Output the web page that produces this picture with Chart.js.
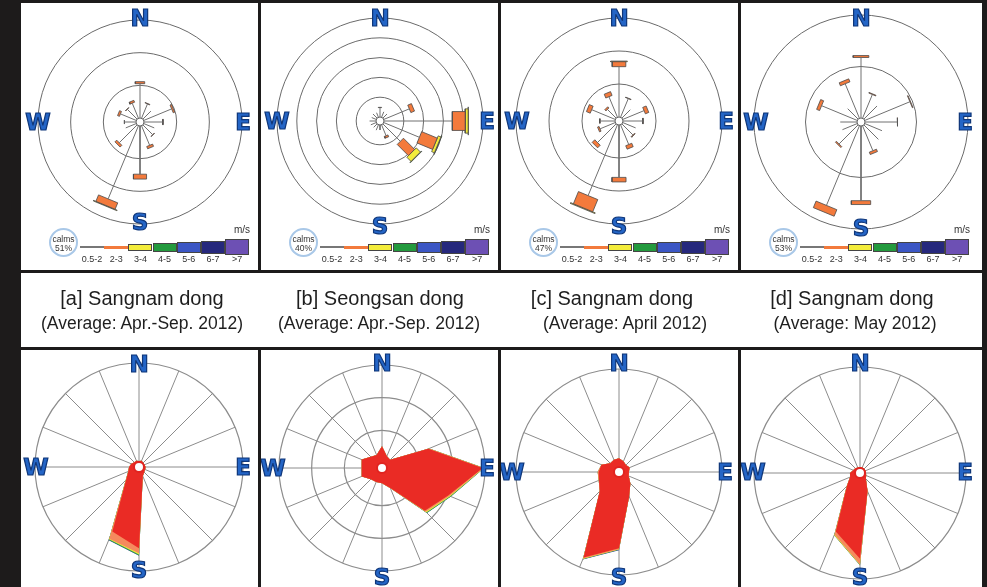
<!DOCTYPE html>
<html>
<head>
<meta charset="utf-8">
<script src="https://cdn.jsdelivr.net/npm/chart.js@4.4.1/dist/chart.umd.min.js"></script>
<style>
body { margin: 0; width: 987px; height: 587px; background: #1d1b1b; position: relative; overflow: hidden; font-family: "Liberation Sans", Arial, sans-serif; }
.panel { position: absolute; background: #fff; overflow: hidden; }
.panel canvas { position: absolute; }
.dir { position: absolute; font: bold 23px "DejaVu Sans", sans-serif; line-height: 1; color: #2465c6; -webkit-text-stroke: 1.2px #0f3679; transform: translate(-50%, -50%); }
.calm { position: absolute; left: 28px; top: 225px; width: 29px; height: 29px; border: 2px solid #a9c8e8; border-radius: 50%; font-size: 8.5px; line-height: 9px; text-align: center; color: #333; padding-top: 5px; box-sizing: border-box; }
.lbar { position: absolute; box-sizing: border-box; }
.llab { position: absolute; font-size: 9px; color: #333; text-align: center; white-space: nowrap; }
.ms { position: absolute; left: 213px; top: 221px; font-size: 10px; color: #333; }
.t1 { position: absolute; top: 14px; font-size: 20px; color: #1e1e1e; transform: translateX(-50%); white-space: nowrap; }
.t2 { position: absolute; top: 40px; font-size: 17.5px; color: #1e1e1e; transform: translateX(-50%); white-space: nowrap; }
</style>
</head>
<body>
<script>
const dirs = ['N', 'NNE', 'NE', 'ENE', 'E', 'ESE', 'SE', 'SSE', 'S', 'SSW', 'SW', 'WSW', 'W', 'WNW', 'NW', 'NNW'];
const speedLabels = ['0.5-2', '2-3', '3-4', '4-5', '5-6', '6-7', '>7'];
const speedColors = ['#777777', '#f37a3c', '#f3ec3b', '#239a3e', '#3b56c4', '#26287c', '#6d50b4'];
const calms = [51, 40, 47, 53];
const titles = ['[a] Sangnam dong', '[b] Seongsan dong', '[c] Sangnam dong', '[d] Sangnam dong'];
const periods = ['(Average: Apr.-Sep. 2012)', '(Average: Apr.-Sep. 2012)', '(Average: April 2012)', '(Average: May 2012)'];

// top roses: frequency (%) per speed class, N..NNW clockwise
const roseA1 = [4.2, 1.9, 1.4, 3.7, 2.3, 1.4, 1.7, 2.6, 5.9, 9.7, 3.1, 1.4, 1.4, 2.1, 1.7, 2.0];
const roseA2 = [0.25, 0.06, 0, 0.2, 0.05, 0, 0.05, 0.3, 0.6, 0.85, 0.3, 0, 0.05, 0.25, 0.05, 0.25];
const roseA3 = [0, 0, 0, 0, 0, 0, 0, 0, 0, 0.08, 0, 0, 0, 0, 0, 0];
const ringsA = [4, 8, 12];

const roseB1 = [1.9, 1.2, 1.2, 5.6, 13.8, 7.8, 5.0, 2.4, 1.0, 1.2, 1.0, 1.2, 1.3, 1.0, 1.2, 1.0];
const roseB2 = [0.05, 0, 0, 0.8, 2.6, 3.4, 3.2, 0.4, 0, 0, 0, 0, 0, 0, 0, 0];
const roseB3 = [0, 0, 0, 0, 0.6, 0.6, 1.2, 0, 0, 0, 0, 0, 0, 0, 0, 0];
const roseB4 = [0, 0, 0, 0, 0.05, 0.1, 0.1, 0, 0, 0, 0, 0, 0, 0, 0, 0];
const ringsB = [4, 8, 12, 16, 20];

const roseC1 = [6.1, 2.45, 1.45, 2.8, 2.4, 1.7, 1.9, 2.6, 6.35, 9.3, 3.2, 2.0, 1.8, 3.1, 1.5, 2.7];
const roseC2 = [0.6, 0.05, 0, 0.45, 0.05, 0, 0.1, 0.45, 0.55, 1.6, 0.45, 0.2, 0.05, 0.5, 0.2, 0.5];
const roseC3 = [0.08, 0, 0, 0, 0, 0, 0, 0, 0, 0.1, 0, 0, 0, 0, 0, 0];
const ringsC = [4, 8, 12];

const roseD1 = [4.7, 2.0, 1.45, 3.8, 2.5, 1.45, 1.6, 2.1, 5.8, 6.7, 2.1, 1.25, 1.3, 3.0, 1.15, 2.9];
const roseD2 = [0.15, 0.05, 0, 0.05, 0.05, 0, 0, 0.2, 0.3, 0.55, 0.1, 0, 0, 0.25, 0, 0.25];
const ringsD = [4, 8];

// bottom roses: layers by speed class, outer circle = 30 %
const botA1 = [0.3, 0.5, 0.3, 0.3, 0.5, 0.5, 0.7, 1.5, 23.1, 19.6, 4.0, 2.0, 1.5, 1.0, 0.5, 0.5];
const botA2 = [0, 0, 0, 0, 0, 0, 0, 0, 1.5, 2.4, 0.1, 0, 0, 0, 0, 0];
const botA3 = [0, 0, 0, 0, 0, 0, 0, 0, 0.4, 0.2, 0.1, 0.05, 0, 0, 0, 0];
const botA4 = [0, 0, 0, 0, 0, 0, 0, 0, 0.3, 0.2, 0, 0, 0, 0, 0, 0];
const botA5 = [0, 0, 0, 0, 0, 0, 0, 0, 0.1, 0.1, 0, 0, 0, 0, 0, 0];

const botB1 = [5.1, 2.4, 2.0, 13.8, 29.3, 20.4, 17.0, 5.1, 3.1, 3.1, 3.3, 5.2, 4.7, 5.2, 3.3, 2.8];
const botB2 = [0, 0, 0, 0.2, 0.3, 0.4, 0.4, 0.1, 0, 0, 0, 0, 0, 0, 0, 0];
const botB3 = [0, 0, 0, 0.1, 0.1, 0.3, 0.3, 0, 0, 0, 0, 0, 0, 0, 0, 0];
const botB4 = [0, 0, 0, 0, 0.05, 0.2, 0.2, 0, 0, 0, 0, 0, 0, 0, 0, 0];
const botB5 = [0, 0, 0, 0, 0, 0, 0, 0, 0, 0, 0, 0, 0, 0, 0, 0];

const botC1 = [2.7, 2.0, 1.5, 2.0, 1.5, 1.7, 3.4, 6.6, 21.8, 26.8, 6.8, 5.1, 4.7, 4.3, 2.3, 2.5];
const botC2 = [0, 0, 0, 0, 0, 0, 0, 0, 0.3, 0.35, 0, 0.1, 0.3, 0, 0, 0];
const botC3 = [0, 0, 0, 0, 0, 0, 0, 0, 0.1, 0.15, 0, 0, 0, 0, 0, 0];
const botC4 = [0, 0, 0, 0, 0, 0, 0, 0, 0.1, 0.1, 0, 0, 0, 0, 0, 0];
const botC5 = [0, 0, 0, 0, 0, 0, 0, 0, 0.1, 0.05, 0, 0, 0, 0, 0, 0];

const botD1 = [0.3, 0.3, 0.3, 0.3, 0.3, 0.5, 1.0, 4.4, 24.0, 17.3, 4.0, 1.7, 1.5, 0.7, 0.5, 0.3];
const botD2 = [0, 0, 0, 0, 0, 0, 0, 0, 1.7, 1.0, 0.1, 0, 0, 0, 0, 0];
const botD3 = [0, 0, 0, 0, 0, 0, 0, 0, 0.15, 0.2, 0.05, 0, 0, 0, 0, 0];
const botD4 = [0, 0, 0, 0, 0, 0, 0, 0, 0.1, 0.05, 0, 0, 0, 0, 0, 0];
const botD5 = [0, 0, 0, 0, 0, 0, 0, 0, 0, 0, 0, 0, 0, 0, 0, 0];
const botRingsB = [10, 20, 30];
const botRingsOther = [30];

const CALM_PX = 4;
const HOLE_PX = 5;
const barWidth = [0, 0.12, 0.14, 0.16];
const layerColors = ['#ea2b25', '#f58a5e', '#efe43f', '#36a547', '#2b3c9e'];
const legendHeights = [1.5, 3, 7, 9, 11, 13, 16];

const panelX = [21, 261, 501, 741];
const panelW = [237, 237, 237, 241];
const topGeo = [[119, 119, 102], [119, 118, 103], [118, 118, 103], [120, 119, 107]];
const botGeo = [[118, 117, 104], [121, 118, 103], [118, 122, 103], [119, 123, 106]];
// compass letter positions on the page: [N, E, S, W] as [x, y]
const topLetters = [
    [[140, 18], [243, 122], [140, 222], [38, 122]],
    [[380, 18], [487, 121], [380, 226], [277, 121]],
    [[619, 18], [726, 121], [619, 226], [517, 121]],
    [[861, 18], [965, 122], [861, 228], [756, 122]]
];
const botLetters = [
    [[139, 364], [243, 467], [139, 570], [36, 467]],
    [[382, 363], [487, 468], [382, 577], [273, 468]],
    [[619, 363], [725, 472], [619, 577], [512, 472]],
    [[860, 363], [965, 472], [860, 577], [753, 472]]
];

function makePanel(x, y, w, h) {
    const d = document.createElement('div');
    d.className = 'panel';
    d.style.cssText = `left:${x}px;top:${y}px;width:${w}px;height:${h}px`;
    document.body.appendChild(d);
    return d;
}

function addCanvas(panel, cx, cy, size) {
    const c = document.createElement('canvas');
    c.width = size;
    c.height = size;
    c.style.left = (cx - size / 2) + 'px';
    c.style.top = (cy - size / 2) + 'px';
    panel.appendChild(c);
    return c;
}

function addCompass(panel, px, py, spots) {
    ['N', 'E', 'S', 'W'].forEach((t, i) => {
        const s = document.createElement('div');
        s.className = 'dir';
        s.textContent = t;
        s.style.left = (spots[i][0] - px) + 'px';
        s.style.top = (spots[i][1] - py) + 'px';
        panel.appendChild(s);
    });
}

function addLegend(panel, calm) {
    const c = document.createElement('div');
    c.className = 'calm';
    c.innerHTML = 'calms<br>' + calm + '%';
    panel.appendChild(c);
    speedLabels.forEach((lab, i) => {
        const x0 = 59 + i * 24.2;
        const h = legendHeights[i];
        const bar = document.createElement('div');
        bar.className = 'lbar';
        bar.style.cssText = `left:${x0}px;top:${244 - h / 2}px;width:24px;height:${h}px;background:${speedColors[i]};` +
            (i > 1 ? 'border:1px solid #444;' : '');
        panel.appendChild(bar);
        const t = document.createElement('div');
        t.className = 'llab';
        t.textContent = lab;
        t.style.cssText = `left:${x0 - 2}px;width:28px;top:251px`;
        panel.appendChild(t);
    });
    const ms = document.createElement('div');
    ms.className = 'ms';
    ms.textContent = 'm/s';
    panel.appendChild(ms);
}

function drawRose(canvas, classes, rings, outerPx) {
    const vmax = rings[rings.length - 1];
    const k = (outerPx - CALM_PX) / vmax;
    const off = CALM_PX / k;
    const half = canvas.width / 2 / k;

    const datasets = [{
        data: [{x: 0, y: 0}],
        pointRadius: CALM_PX,
        pointBackgroundColor: '#ffffff',
        pointBorderColor: '#666666',
        pointBorderWidth: 1
    }];

    const spoke = [];
    dirs.forEach((d, i) => {
        const a = i * Math.PI / 8, s = Math.sin(a), c = Math.cos(a);
        const r1 = off + classes[0][i];
        spoke.push({x: off * s, y: off * c}, {x: r1 * s, y: r1 * c}, {x: null, y: null});
    });
    datasets.push({data: spoke, showLine: true, borderColor: '#707070', borderWidth: 1, pointRadius: 0});

    for (let j = 1; j < classes.length; j++) {
        const pts = [];
        dirs.forEach((d, i) => {
            if (!classes[j][i]) return;
            let r0 = off;
            for (let m = 0; m < j; m++) r0 += classes[m][i];
            const r1 = r0 + classes[j][i];
            const hw = barWidth[j] * (r0 + r1) / 2;
            const a = i * Math.PI / 8, s = Math.sin(a), c = Math.cos(a);
            const corner = (r, w) => ({x: r * s + w * c, y: r * c - w * s});
            pts.push(corner(r0, -hw), corner(r0, hw), corner(r1, hw), corner(r1, -hw), corner(r0, -hw), {x: null, y: null});
        });
        datasets.push({
            data: pts, showLine: true, fill: 'shape',
            backgroundColor: speedColors[j], borderColor: '#4a4a4a', borderWidth: 0.8, pointRadius: 0
        });
    }

    new Chart(canvas, {
        type: 'scatter',
        data: {datasets},
        options: {
            responsive: false,
            animation: false,
            events: [],
            layout: {padding: 0, autoPadding: false},
            plugins: {legend: {display: false}, tooltip: {enabled: false}},
            scales: {
                x: {type: 'linear', min: -half, max: half, display: false},
                y: {type: 'linear', min: -half, max: half, display: false}
            }
        },
        plugins: [{
            id: 'rings',
            beforeDatasetsDraw(chart) {
                const {ctx, scales: {x, y}} = chart;
                const cx = x.getPixelForValue(0), cy = y.getPixelForValue(0);
                ctx.save();
                ctx.strokeStyle = '#6a6a6a';
                ctx.lineWidth = 1;
                rings.forEach(v => {
                    const r = x.getPixelForValue(off + v) - cx;
                    ctx.beginPath();
                    ctx.arc(cx, cy, r, 0, Math.PI * 2);
                    ctx.stroke();
                });
                ctx.restore();
            }
        }]
    });
}

function drawRadar(canvas, layers, rings, outerPx) {
    const vmax = rings[rings.length - 1];
    const min = -HOLE_PX / (outerPx - HOLE_PX) * vmax;
    const datasets = layers.map((layer, j) => ({
        data: dirs.map((d, i) => layers.slice(0, j + 1).reduce((s, l) => s + l[i], 0)),
        backgroundColor: layerColors[j],
        borderColor: 'rgba(0,0,0,0)',
        borderWidth: 0,
        pointRadius: 0,
        fill: 'start'
    }));

    new Chart(canvas, {
        type: 'radar',
        data: {labels: dirs, datasets},
        options: {
            responsive: false,
            animation: false,
            events: [],
            layout: {padding: 2, autoPadding: false},
            plugins: {legend: {display: false}, tooltip: {enabled: false}},
            scales: {
                r: {
                    min: min,
                    max: vmax,
                    ticks: {display: false},
                    pointLabels: {display: false},
                    grid: {circular: true, color: '#8c8c8c', lineWidth: 1.2},
                    angleLines: {color: '#8c8c8c', lineWidth: 1},
                    afterBuildTicks: s => { s.ticks = rings.map(v => ({value: v})); }
                }
            }
        },
        plugins: [{
            id: 'hole',
            afterDatasetsDraw(chart) {
                const s = chart.scales.r, ctx = chart.ctx;
                const r = s.getDistanceFromCenterForValue(0);
                ctx.save();
                ctx.beginPath();
                ctx.arc(s.xCenter, s.yCenter, r, 0, Math.PI * 2);
                ctx.fillStyle = '#ffffff';
                ctx.fill();
                ctx.strokeStyle = '#e02420';
                ctx.lineWidth = 2;
                ctx.stroke();
                ctx.restore();
            }
        }]
    });
}

const roseData = [[roseA1, roseA2, roseA3], [roseB1, roseB2, roseB3, roseB4], [roseC1, roseC2, roseC3], [roseD1, roseD2]];
const roseRings = [ringsA, ringsB, ringsC, ringsD];
const botData = [[botA1, botA2, botA3, botA4, botA5], [botB1, botB2, botB3, botB4, botB5],
    [botC1, botC2, botC3, botC4, botC5], [botD1, botD2, botD3, botD4, botD5]];
const botRings = [botRingsOther, botRingsB, botRingsOther, botRingsOther];

for (let p = 0; p < 4; p++) {
    const top = makePanel(panelX[p], 3, panelW[p], 267);
    const [cx, cy, R] = topGeo[p];
    drawRose(addCanvas(top, cx, cy, 220), roseData[p], roseRings[p], R);
    addCompass(top, panelX[p], 3, topLetters[p]);
    addLegend(top, calms[p]);

    const bot = makePanel(panelX[p], 350, panelW[p], 237);
    const [bx, by, bR] = botGeo[p];
    drawRadar(addCanvas(bot, bx, by, bR * 2 + 4), botData[p], botRings[p], bR);
    addCompass(bot, panelX[p], 350, botLetters[p]);
}

const band = makePanel(21, 273, 961, 74);
const t1x = [142, 380, 612, 852];
const t2x = [142, 379, 625, 855];
titles.forEach((t, i) => {
    const a = document.createElement('div');
    a.className = 't1';
    a.textContent = t;
    a.style.left = (t1x[i] - 21) + 'px';
    band.appendChild(a);
    const b = document.createElement('div');
    b.className = 't2';
    b.textContent = periods[i];
    b.style.left = (t2x[i] - 21) + 'px';
    band.appendChild(b);
});
</script>
</body>
</html>
